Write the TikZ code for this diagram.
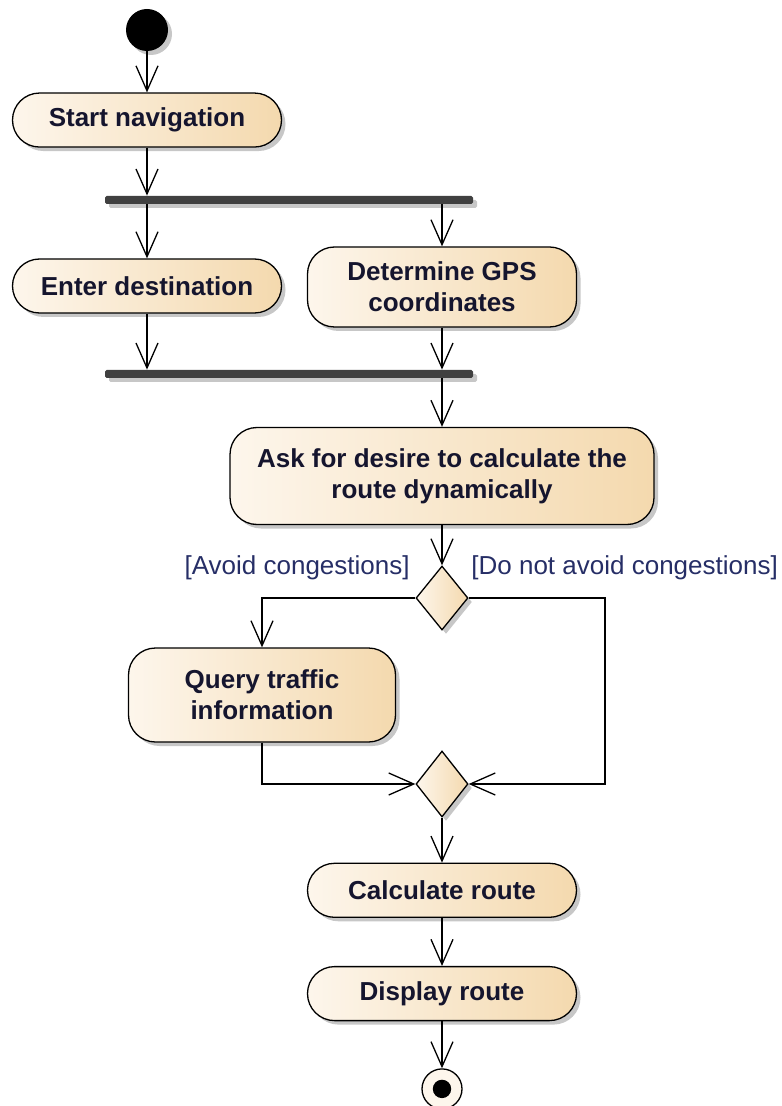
\documentclass[tikz,border=0pt]{standalone}
\usepackage{fontspec}
\setmainfont{Liberation Sans}
\usepackage{tikz}
\usetikzlibrary{arrows.meta,positioning,shapes.geometric,shadows,calc}

\definecolor{actlight}{HTML}{FDF6EC}
\definecolor{actdark}{HTML}{F4D9AE}
\definecolor{bartone}{HTML}{404040}
\definecolor{labeltone}{HTML}{262E66}
\definecolor{inktone}{HTML}{15152E}

\begin{document}
\begin{tikzpicture}[
    x=0.5pt, y=-0.5pt,
    node distance=22pt,
    shade/.style={drop shadow={shadow xshift=2pt, shadow yshift=-2pt, opacity=0.22, fill=black}},
    action/.style={rectangle, rounded corners=13.5pt, draw=black, line width=0.65pt,
        left color=actlight, right color=actdark, minimum width=134.5pt, minimum height=27pt,
        align=center, font=\fontsize{13}{15.5}\selectfont\bfseries, text=inktone, shade},
    choice/.style={diamond, draw=black, line width=0.65pt, left color=actlight, right color=actdark,
        minimum width=26pt, minimum height=32pt, inner sep=0pt, shade},
    forkbar/.style={rectangle, fill=bartone, minimum width=184pt, minimum height=4pt, inner sep=0pt,
        rounded corners=0.8pt, shade},
    initial/.style={circle, fill=black, minimum size=21pt, inner sep=0pt, shade},
    final/.style={circle, draw=black, line width=0.65pt, fill=actlight, minimum size=20pt, inner sep=0pt,
        path picture={\fill[black] (path picture bounding box.center) circle[radius=4.6pt];}},
    guard/.style={font=\fontsize{13}{15.5}\selectfont, text=labeltone, inner sep=0pt},
    flow/.style={-{Straight Barb[length=12.5pt, width=11pt, line width=0.65pt]}, line width=0.65pt}
]
    \useasboundingbox (0,0) rectangle (781,1106);

    % Start and fork
    \node[initial] (start) at (147,30) {};
    \node[action, below=20.5pt of start] (startnav) {Start navigation};
    \node[forkbar] (fork) at (289,200) {};

    % Parallel actions
    \node[action] (enter) at (147,286) {Enter destination};
    \node[action, minimum height=40pt] (gps) at (442,287) {Determine GPS\\coordinates};
    \node[forkbar] (join) at (289,374) {};

    % Decision
    \node[action, minimum width=212pt, minimum height=48.5pt] (ask) at (442,476) {Ask for desire to calculate the\\route dynamically};
    \node[choice] (dec) at (442,598) {};
    \node[guard, anchor=east] (gavoid) at (410,568) {[Avoid congestions]};
    \node[guard, anchor=west] (gkeep) at (471,568) {[Do not avoid congestions]};

    \node[action, minimum width=133.5pt, minimum height=47pt] (query) at (262,695) {Query traffic\\information};
    \node[choice, minimum height=33pt] (merge) at (442,784) {};
    \coordinate (rturn) at (605,690);

    % Final part
    \node[action, below=22.5pt of merge] (calc) {Calculate route};
    \node[action, below=24pt of calc] (display) {Display route};
    \node[final, below=23.5pt of display] (end) {};

    % Flows
    \draw[flow] (start) -- (startnav);
    \draw[flow] (startnav) -- (startnav |- fork.north);
    \draw[flow] (enter |- fork.south) -- (enter);
    \draw[flow] (gps |- fork.south) -- (gps);
    \draw[flow] (enter) -- (enter |- join.north);
    \draw[flow] (gps) -- (gps |- join.north);
    \draw[flow] (ask |- join.south) -- (ask);
    \draw[flow] (ask) -- (dec);
    \draw[flow] (dec.west) -| (query.north);
    \draw[flow] (dec.east) -| (rturn) |- (merge.east);
    \draw[flow] (query.south) |- (merge.west);
    \draw[flow] (merge) -- (calc);
    \draw[flow] (calc) -- (display);
    \draw[flow] (display) -- (end);
\end{tikzpicture}
\end{document}
